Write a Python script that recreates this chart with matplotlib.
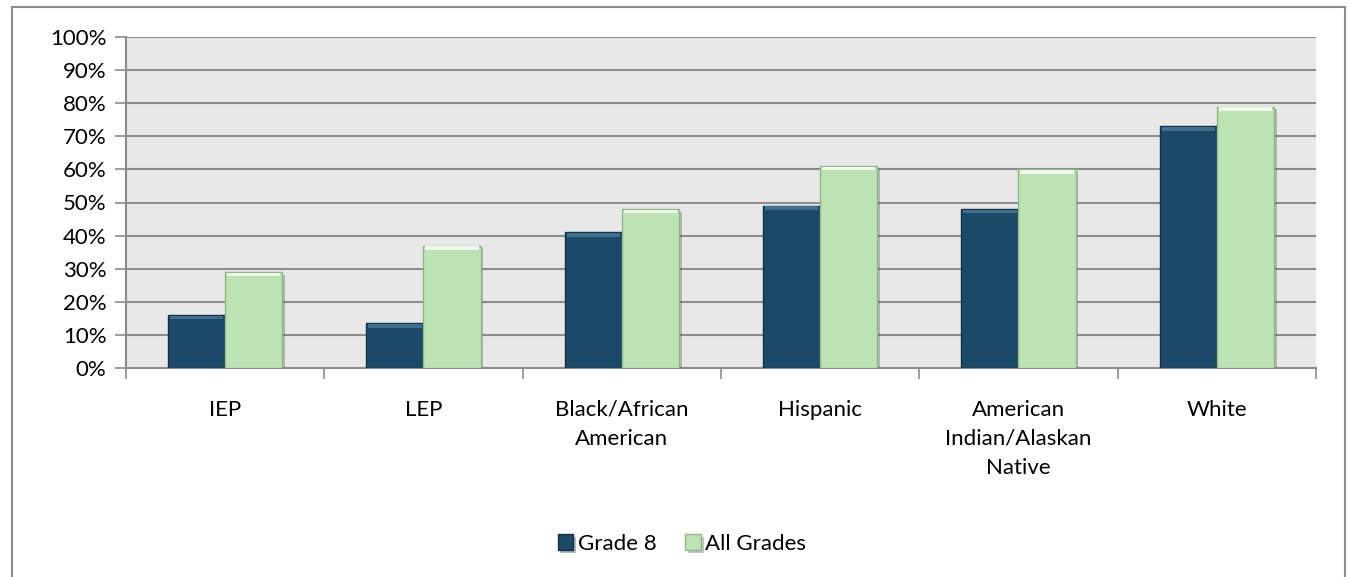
import numpy as np
import matplotlib.pyplot as plt
import matplotlib.patheffects as pe
from matplotlib.patches import Rectangle

plt.rcParams['font.family'] = ['Lato', 'DejaVu Sans']

# Data
categories = ["IEP", "LEP", "Black/African\nAmerican", "Hispanic",
              "American\nIndian/Alaskan\nNative", "White"]
grade8 = [16, 13.5, 41, 49, 48, 73]
all_grades = [29, 37, 48, 61, 60, 79]
series_names = ["Grade 8", "All Grades"]

fig = plt.figure(figsize=(13.49, 5.77), dpi=100)
ax = fig.add_axes([126 / 1349, 1 - 368 / 577, 1190 / 1349, 331 / 577])

x = np.arange(len(categories))
w = 0.288
shadow = [pe.SimplePatchShadow(offset=(2, -2), alpha=0.3), pe.Normal()]
b1 = ax.bar(x - w / 2, grade8, w, color="#1B4A68", edgecolor="#123448",
            linewidth=1, label=series_names[0], zorder=3)
b2 = ax.bar(x + w / 2, all_grades, w, color="#BDE3B4", edgecolor="#8FB888",
            linewidth=1, label=series_names[1], zorder=3)
for b in list(b1) + list(b2):
    b.set_path_effects(shadow)

# lighter strip along the top of each bar for a bevel look
for bars, col in ((b1, "#3F7090"), (b2, "#EEF9EA")):
    for b in bars:
        ax.add_patch(Rectangle((b.get_x() + 0.01, b.get_height() - 1.3), b.get_width() - 0.02, 1.1,
                               color=col, zorder=4, linewidth=0))

ax.set_facecolor("#E8E8E8")
ax.set_xlim(-0.5, len(categories) - 0.5)
ax.set_ylim(0, 100)
ax.set_yticks(np.arange(0, 101, 10))
ax.set_yticklabels([f"{v}%" for v in range(0, 101, 10)], fontsize=16)
ax.yaxis.grid(True, color="#8C8C8C", linewidth=1.5, zorder=0)
ax.set_axisbelow(True)

ax.set_xticks(np.arange(-0.5, len(categories), 1))
ax.set_xticklabels([])
ax.set_xticks(x, minor=True)
ax.set_xticklabels(categories, minor=True, fontsize=16, linespacing=1.55)
ax.tick_params(axis="x", which="minor", length=0, pad=23)
ax.tick_params(axis="x", which="major", length=8, color="#8C8C8C", width=1.2)
ax.tick_params(axis="y", length=8, color="#8C8C8C", width=1.2, pad=6)

for s in ["top", "right"]:
    ax.spines[s].set_visible(False)
for s in ["left", "bottom"]:
    ax.spines[s].set_color("#8C8C8C")
    ax.spines[s].set_linewidth(1.5)

ax.legend(loc="center", bbox_to_anchor=(682 / 1349, 1 - 544 / 577),
          bbox_transform=fig.transFigure, ncol=2, frameon=False, fontsize=16,
          handlelength=0.7, handleheight=0.7, handletextpad=0.2, columnspacing=1.3)

# outer chart border
fig.add_artist(Rectangle((12 / 1349, -0.01), 1333 / 1349, 1 - 7 / 577 + 0.01,
                         transform=fig.transFigure, fill=False,
                         edgecolor="#8C8C8C", linewidth=1.5))

fig.savefig("out.png", dpi=100)
